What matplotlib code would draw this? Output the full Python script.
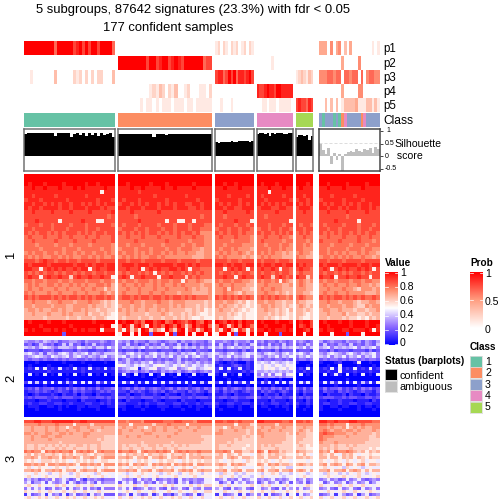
import numpy as np
import matplotlib
matplotlib.use("Agg")
import matplotlib.pyplot as plt
from matplotlib.colors import LinearSegmentedColormap, ListedColormap

plt.rcParams["font.family"] = ["Liberation Sans", "DejaVu Sans"]

W = 504
group_x = [(24, 115), (118, 212), (215, 254), (257, 293), (296, 313), (319, 380)]
class_colors = ["#66C2A5", "#FC8D62", "#8DA0CB", "#E78AC3", "#A6D854"]

# probability tracks, digit/9, one string per group
p1 = ["999999999969999978979799799996", "0" * 30, "120210212012021",
      "0" * 15, "0000000", "4440504503040000000101"]
p2 = ["0" * 30, "999999999799789978987999999677", "0" * 15,
      "000000100000000", "0000000", "0000000040000050000000"]
p3 = ["001000000030000021202020220003", "0" * 30, "788679796887897",
      "0" * 15, "1232132", "5556656606656606056655"]
p4 = ["0" * 30, "000000000012132021300120001102", "0" * 15,
      "877898879988888", "0000000", "0000000040000055000000"]
p5 = ["0" * 30, "000000010110101110111011011111", "001000100000000",
      "001101110111110", "7877687", "0030303013333411133131"]
class_track = ["1" * 30, "2" * 30, "3" * 15, "4" * 15, "5" * 7,
               "3133313124333332433333"]

# silhouette bars per group
sil_g1 = [.90, .93, .92, .94, .94, .93, .93, .92, .94, .92, .80, .92, .93, .92, .93, .78,
          .88, .93, .84, .92, .80, .92, .85, .92, .80, .93, .84, .90, .93, .76]
sil_g2 = [.89, .89, .90, .90, .89, .90, .89, .90, .90, .90, .88, .75, .90, .88, .90, .86,
          .89, .90, .88, .90, .90, .88, .90, .89, .90, .88, .90, .89, .90, .88]
sil_g3 = [.55, .53, .55, .58, .57, .58, .60, .58, .57, .60, .59, .60, .61, .58, .62]
sil_g4 = [.90, .93, .92, .89, .93, .80, .93, .90, .92, .91, .92, .89, .90, .92, .91]
sil_g5 = [.78, .86, .86, .80, .84, .66, .82]
sil_g6 = [.52, .25, .10, .32, -.30, .12, -.15, .10, -.60, .08, .15, .20, .18, .30,
          .22, .18, .28, .25, .32, .12, .35, .30]
sil_groups = [sil_g1, sil_g2, sil_g3, sil_g4, sil_g5, sil_g6]

# heatmap cells, hex digit/15, groups split by spaces
heat1 = [
    "ffffffffffffffffffffffff ffffffffffffffffffffffff ffffffffff ffffffffff fffff ffffffffffffffff",
    "ffffffffffffffffffffffff ffffffffffffffffffffffff ffffffffff ffffffffff fffff ffffffffffffffff",
    "fefffeffffefffffeffeffff ffefffffefffeffffffeffff ffeffeffff fefffeffff fffef ffeffffeffffefff",
    "eefeefeeefeeefefeeeeefee eeefeefeeeefeefeeeefeee eefeeefeee eeefeeefee efeee eefeeefeeeefeeee",
    "eeeeeeeeeeeeeeeeeeee8eee eeeeedeeeeeeeeeeeeeeee eeeeeeeeee eee8eeeeee eeeee eeeeeeeeeeeeeeee",
    "eedeeeeedeeeeeeedeeeeeee eeeeeeeeedeeeeeeedeeee eeedeeeede edeeeeedee eedee eeedeeeeedeeeeee",
    "deeedeeeeeedeeeeeeedeeed edeeedeeeeeedeeeeeeedee deeeeedeee eedeeeeeed deede deeeeedeeeedeeee",
    "eedeedededeedeededededee deedededeedededeeddeede ededeedede ededededee edede ededeedededeedee",
    "edeedeeeedeedeeedeeededd eedeeedeeedeeedeeeddede eedeeddeee deeeddeedd deeed eedeededeedeeded",
    "ddeddddeddddeddddeddddde dddeddddddedddddddddddd ddeddddded dddddedddd ddedd ddeddddeddddeddd",
    "ddddddddddddddddddddddcd ddddcddddddddddddddddcd ddcddddddd ddcddddddd ddddd dddddddcdddddddd",
    "dddeddddd8dddddeddd88ddd dddddedddddd8dd88dd8ddd dddddeddd8 ddddddddd8 ddddd ddddeddddd8ddddd",
    "cdddcddcddddcdddcddddddc dcdddcddddcdddcdddcdddc dcdddcddcd dddcdddcdd dcddc dcddddcdddcdddcd",
    "ddcddddcdddcddddcddcdddd cdddcddcdddcddcdddcddcc cddcddcddc cddcddcddc ddcdd ddcddcddddcddcdd",
    "dcdcddcdcdcdddcdcdcddcdd dcdcdcdcddcdcdcdcddcdb dcdcddcdcc dcddcdcdcd cdcdc dcdcdcddcdcdcddc",
    "cdcccdcccdccdcccdccdcccd ccdcccdcccdccccdcccdccb cdcccdcccb ccdcccdccb ccdcc ccdcccdcccdccdcc",
    "ccdcccccdccccdccccdccccd ccccdcccccccdcccccbcccb ccccbccccb cdcccccbcc cccbc dccccdccccdcccbc",
    "cccbccccbcccbccccbcccccb ccbcccbccccbccccbccbccb ccbccccbbb ccbcccbccb ccbcb cccbccccbcccbccc",
    "ccccbcccccbcccbcccccbccb bcccbcccbcccbccbcccbbab cbccbcbbba cccbccbcbb ccbbb ccbccccbcccbccbb",
    "bcbccbccbcbccbcbccbccbcb cbccbcbcbccbcbcbbcbbaab bcbcbbcbab cbcbcbbaba bcbba ccbcbcbcbbcbcbba",
    "cbcbcbbccbcbcbbccbcbcbbc bcbcbcbbccbcbbbbbbbaaab cbcbbbbaba bcbcbbbaaa cbbaa bccbcbcbcbbcbbab",
    "dddcdeddcddcddcddddcdddd ddcdddcddddcdddcddddcdd dddcddcddd dcdddcdddc ddddd ddcdddcddddcdddd",
    "edeeeedeeeeeedeededeedee deeedeeedeeeeedeedededd eededeedee edeedeedee ededd edeeedeeeedeedee",
    "eedd8dedededdedee8deddee ddedde8dededdeeded8ddcc dd8deded8d dedded8ddc deddc ded8dededdeded8d",
    "dcdcdcddcdcddcdcddcddcdd cdcddcdcd8dcdcddcdcdcdc dcddcdcddc dcddcdcddc cdccc dcddcdcdcddcdcdd",
    "dedd8deddedd9deddeddedd8 ded8ddeddd8ddeddd9dcdcc ddedd8dedd dedd9dedcd edd9c edde8ddeddedd8dd",
    "ccbccbcccbccbcccbcccbccb cbccbcccbcbccbcc8cbbcba cbccbccbba cbccbc8cba bcbab cbccbcccbccbccbb",
    "bcbcbbccbcbbcbcbcbbccbca bcbbcbcbbcbcbbcbcbbbbab bcbbcbbbaa bbcbbbbaab bcbaa bcbbcbbcbbcbbaba",
    "bcbbcbbbcbbcbbbcbbcbb9ba bbcbbcbbbcbbcbbbbcbabaab bbc9cbbaa9 bcbbcbbaaa bbbaa bbcbbbcbba9bbbab",
    "cbcbbbcbbcbbbcbbcbbbcbab bcbbbcbbcbbcbbbabbbaaaab bbcbba9baa bbcbbaba9a bbaa9 bcbbcbbcbbbbaaab",
    "dcdcdddcdcdcddcdcdcddcdc cddcdcddcddcdcddcdcdcccb dcdcdcdcdc cdcdcdccbc cdcbb dcdcddcdcdcdccdc",
    "bbcbbbabbcbbbabbbcbba9a9 bbbcbbabbbcbbabbbaaaaa9a bbabba9a89 bbabbaa9aa baa99 bbcbbabbba9aabba",
    "bbabbbbabbbaabbbbabaa9a9 abbabbabbabbbababaaa9a9a babaa9a989 abbabaa9a9 aba9a bbabbbabba99babb",
    "abbabaabbabaabbabaa9aa99 bababaabaababaaaa99a9a89 abaa9a9898 aabaa9a98a aa9a9 abbaabaaa9aa9aab",
    "aabaaabaaababaaab9aa9a98 aabaaaa9aaaba9aa9a9a9889 aaa9a98988 aaa9a9a989 aa989 aabaaab9aa99a9aa",
    "aaaaa9aaaaa9aa9aaa9aa988 a9aaa9aa9aa9aa9a9a988988 a9a9988988 aa9a989889 a9889 aa9aaa9a99898a9a",
    "feffffefffefffffffefffff feffdecffdefcdfedcefdcfe fedfefdfee fefffefffe feffd fefffeffefffefff",
    "ffffefffffffefffffffeff8 cfe9efc8fdecfecfd9cfdefc cfe9dfcfec ffeffffeff fdefd ffefffffefffeffe",
    "efeffeefefeffefefeef8eee c8e9c8fe9ca8fc9ef8de9cfe c9efa8ec8d eefefeeefe ffedf efeeffeefeeefe8e",
    "ffffffffff3fffffffffffff 8ff8f8ff3fff8f3ff8f8ff8f 8ff8f3ff8f ff8fff3fff ff8ff fff8fff3fff8ffff",
]
heat2 = [
    "544546545344554354445434 545354435543455354454435 4454354453 4534435434 45434 5345443544535435",
    "342364342363634243634334 436342353436343635243434 3634363436 3436343634 34364 3634354363435436",
    "656467654666547656466475 465656746565646756564646 5646756564 6756564656 65746 5674656567465674",
    "233323342233324332233234 323324233323332423324332 3323332423 2333242333 23332 3324233323332423",
    "675463654676465674654666 546756546756465465674656 6546754676 5467654675 67546 5467654675465674",
    "456765476567467546546745 674657465746574657467546 4657465674 6546574657 46575 6574657465746574",
    "434434334343443343434334 346434344343434634343443 4344343443 4344344343 34434 3434434344343443",
    "000100000010000100000100 546454657454654646546454 2101210021 6765765676 10001 1000120001800100",
    "010000100000100001000000 876576765787657686576576 1211232121 7687687687 00010 0010080000100010",
    "121717121712171217121712 456781567845678456875678 2717127121 7687867868 12171 1217171217121712",
    "111111211111111211111111 345453453435454534543454 2112111212 5565656565 11211 1121181112111211",
    "070107010701070107010701 171070107017010701070107 1070107010 4748478478 07010 0701710701070107",
    "000000000000000000000000 001000100010001000100000 0010001000 5545545455 00000 0000000000000000",
    "000000000001000000000000 000000000100000000000000 0001000000 0010001000 00000 0000000100000000",
    "271617171716271717162718 172716171717162717171618 2717162718 1627171716 17271 1716271717162718",
    "000001000000100000010000 000010000001000000100000 0001000010 0000100001 00000 0000100000100000",
    "232423342324243423242334 234243423432342434234243 3242343243 4232434242 32423 2423342324243423",
    "122323212322132322123232 221323212323123221323213 2132321232 1323212321 21322 1322132321232213",
    "101211121021120211021112 112011211210211021121101 1121021112 1021120211 10211 1021112021102112",
    "232333223233322332233232 332322333223233322323332 2332332233 3223233223 23232 2333223233223323",
    "111011211101110211101121 102111011210111021110111 1101121110 1110211101 11021 1101121110111021",
    "121122112211211122112121 221112121122112212112122 2112211221 1211221121 21121 1221121122112211",
    "011100110101001101110011 110011010011101100101101 1001101001 0110010110 10010 1001101100101101",
    "000100000100001000010000 010000100001000010001000 0100001000 0001000010 00100 1000010000100010",
    "000000000000000000000000 000000000000000000000000 0000000000 0000000000 00000 0000000000000000",
    "000000000000000000000000 000000000000000000000000 0000000000 0000000000 00000 0000000000000000",
]
heat3 = [
    "dddeedddeeeeeeddeedddddd ccbcccbdddddcccddcccbddd ddcddcdccc eedddddccd ddcdc eeddedddeeddddcc",
    "bbbbcbbbbcbbbb8bbbb9bbbb bbb8bbbbb9bbbcbbbb8bbbbb bbbbb8bbb9 bbbbb9bbbb bbbbb ccbcbbb8bbbcbbbb",
    "aabaaabaabaa8abbaabaaaba abaabaa8abaabaabaabaabaa aa8abaabaa abaabaabaa aabaa bbabaab8ababaabb",
    "aabaaabaabaabaabaaaba9aa baabaabaabaabaaabaaabaaa abaaabaa9a baabaabaaa aba9a bcbabbabbabaaaba",
    "bbabaabbaabbabaaabbaaaaa baaaaaabbaaaaaabaaaaaaaa bbaaaaaa9a bbaaaaaa9a baa99 cdccbbbaabaaaa9a",
    "aabaabbaabbaaaaaabaaaaa9 aabaabaaaabaabaaaaaaaa99 aaaaaaa9a9 abaaaaaa99 aaa99 cbbbaaabaaaaa99a",
    "aabaaaabaaaaaaaaaaaaa9a9 aaaaaaaaaaaaaaaaaaaaaaa9 aaaaa9a999 aaaaaaaa99 aa999 cbaaaaaaaaaaa999",
    "aaaaaaaaaa9aaaaaaaaaaa99 aaaaaa9aaaaaaa9aaaaaaa99 aaa9a99999 aaaaaaa999 a9999 baaabaaaaaaa9999",
    "a99a99a9a9a9a99aa9a99a99 a9a99a99aa9a99a9a9a99999 a99a999989 a9a9a99999 9a989 aaa9a99a9a999999",
    "a99a9a999a9a99a999a99a99 a99a99a99a99a99a99999999 a999999899 a9999a9999 99988 a9a9a999a9999898",
    "cbcbb8cbcbcbbc8bcbcb8bcb cbbcb8bcbbcbcb8bcbcbbcbb bbcb8bb99a cb8cbb9a99 baa99 bab8cbbcba9a8a9a",
    "9a8a9a99a98a9a899a98a99a 98a9a9a8a99a98a99a8a9a99 9a8a98a887 a98a9a9988 98a87 a98a87a9a8788988",
    "aaba8aabaa8baaba8aaba8ab aaba8aab8aaba8aaba8aaaba aa8aba8aa9 aa8aaa8a99 aa9a9 aa8aa8a9a8a98a99",
    "9898799989898789898978998 989879898789899879898989 9878988798 9898789887 88878 9878987987897887",
    "bbabab8bbabbaba8bbabab8b bab8baba8babab8babab8bba aba8baba88 ba8bab9aa9 aba9a ab8aba8ba8ab8aa9",
    "8978988789879887897898798 987989878987989789879878 8987898777 8978987866 88787 8978786978767877",
    "aabab8aabab8aab8abaab8ab aabab8aab8abaab8abab8aba aab8aab8aa ab8aab8aab aba8a aab8aab8aba8a8aa",
    "7879787687987679878769787 8767879878767987687987687 7697867687 7687986776 78767 7697867687976787",
    "89787898789787897898789787 78978978789787897878978 8978976876 8978787678 78987 7898789878978789",
    "464534548457534742545434 754537454734545374545447 4574547457 4545745457 45745 4574534745743454",
    "573557375457375354753745 375735745375745375735457 7357375745 3574573573 54735 7357457357457357",
    "898798787989787987897878 987897897878989787897989 8979787889 7989787897 87898 9787897897897878",
    "474757347457374574745374 574734574574374574375474 5743745743 7457437475 47457 4574374574374574",
    "987898798789789879878978 789879878987898798789879 8798789879 8987987898 98789 8798789879878987",
    "273457274537257345274573 457275347257342575347257 2734572735 4727345727 27457 3457275347257345",
    "897898978978989789789897 978978989789789897897897 8978978978 9789789789 89789 9789789789789789",
]
heat_blocks = [(heat1, 174, 336), (heat2, 340, 417), (heat3, 420, 499)]

value_ticks = [0, 0.2, 0.4, 0.6, 0.8, 1]
prob_ticks = [0, 0.5, 1]
sil_ticks = [-0.5, 0, 0.5, 1]

value_cmap = LinearSegmentedColormap.from_list(
    "value", ["#0000FF", "#8F6CFF", "#FFFFFF", "#FF8A6A", "#FF0000"])
prob_cmap = LinearSegmentedColormap.from_list("prob", ["#FFFFFF", "#FF9E81", "#FF0000"])

fig = plt.figure(figsize=(7, 7), dpi=72)


def box(x0, y0, x1, y1):
    ax = fig.add_axes([x0 / W, 1 - y1 / W, (x1 - x0) / W, (y1 - y0) / W])
    ax.set_xticks([])
    ax.set_yticks([])
    return ax


def label(x, y, s, size=9, **kw):
    kw.setdefault("va", "center")
    fig.text(x / W, 1 - y / W, s, fontsize=size, **kw)


# top tracks
for track, name, y0 in zip([p1, p2, p3, p4, p5], ["p1", "p2", "p3", "p4", "p5"],
                           [41, 56, 70, 84, 98]):
    for s, (x0, x1) in zip(track, group_x):
        ax = box(x0, y0, x1, y0 + 14)
        ax.imshow([[int(c) / 9 for c in s]], cmap=prob_cmap, vmin=0, vmax=1,
                  aspect="auto", interpolation="nearest")
        ax.axis("off")
    label(383, y0 + 8, name, 11.5)

class_cmap = ListedColormap(class_colors)
for s, (x0, x1) in zip(class_track, group_x):
    ax = box(x0, 113, x1, 127)
    ax.imshow([[int(c) - 1 for c in s]], cmap=class_cmap, vmin=0, vmax=4,
              aspect="auto", interpolation="nearest")
    ax.axis("off")
label(383, 121, "Class", 12)

# silhouette
for i, (vals, (x0, x1)) in enumerate(zip(sil_groups, group_x)):
    ax = box(x0, 128.5, x1, 171)
    ax.bar(np.arange(len(vals)), vals, width=1.0,
           color="#BEBEBE" if i == 5 else "black")
    ax.set_xlim(-0.5, len(vals) - 0.5)
    ax.set_ylim(-0.6, 1.1)
    for sp in ax.spines.values():
        sp.set_color("#444444" if i == 5 else "#707070")
        sp.set_linewidth(1.5)
    if i == 5:
        ax.axhline(0.53, color="#DDDDDD", lw=1, ls=(0, (3, 2)))
        ax.yaxis.tick_right()
        ax.set_yticks(sil_ticks)
        ax.set_yticklabels([])
        ax.tick_params(axis="y", length=3, width=0.7, pad=1)
for v in sil_ticks:
    label(385 if v != 1 else 386, 156 - v * 25, str(v), 7)
label(394, 144, "Silhouette", 10.5)
label(394, 156, " score", 10.5)

# main heatmap
for rows, y0, y1 in heat_blocks:
    split = [r.split(" ") for r in rows]
    for g, (x0, x1) in enumerate(group_x):
        width = max(len(r[g]) for r in split)
        part = [[int(c, 16) / 15 for c in r[g].ljust(width, r[g][-1])[:width]] for r in split]
        ax = box(x0, y0, x1, y1)
        ax.imshow(part, cmap=value_cmap, vmin=0, vmax=1, aspect="auto",
                  interpolation="nearest")
        ax.axis("off")
for y, s in zip([255, 378, 458], ["1", "2", "3"]):
    label(11, y, s, 13, rotation=90, ha="center")

# title
label(193, 10, "5 subgroups, 87642 signatures (23.3%) with fdr < 0.05", 13, ha="center")
label(168, 28, "177 confident samples", 13, ha="center")

# value legend
grad = np.linspace(1, 0, 200).reshape(-1, 1)
ax = box(385, 272, 398, 345)
ax.imshow(grad, cmap=value_cmap, vmin=0, vmax=1, aspect="auto", extent=[0, 1, 0, 1])
ax.axis("off")
for v in value_ticks:
    yy = 0.02 + v * 0.96
    ax.plot([0, 0.2], [yy, yy], color="white", lw=0.7)
    ax.plot([0.8, 1], [yy, yy], color="white", lw=0.7)
    label(400, 343 - v * 69.5, str(v), 10.5)
ax.set_xlim(0, 1)
ax.set_ylim(0, 1)
label(385, 263, "Value", 10, fontweight="bold")

# prob legend
ax = box(470, 272, 483, 328)
ax.imshow(grad, cmap=prob_cmap, vmin=0, vmax=1, aspect="auto", extent=[0, 1, 0, 1])
ax.axis("off")
for v in prob_ticks:
    yy = 0.02 + v * 0.96
    ax.plot([0, 0.2], [yy, yy], color="white", lw=0.7)
    ax.plot([0.8, 1], [yy, yy], color="white", lw=0.7)
    label(485, 330 - v * 56, str(v), 10.5)
ax.set_xlim(0, 1)
ax.set_ylim(0, 1)
label(470, 263, "Prob", 10, fontweight="bold")

# class legend
label(470, 347, "Class", 10, fontweight="bold")
for i, col in enumerate(class_colors):
    ax = box(470, 356 + i * 11.4, 482, 367 + i * 11.4)
    ax.set_facecolor(col)
    for sp in ax.spines.values():
        sp.set_color("#DDDDDD")
    label(485, 362 + i * 11.3, str(i + 1), 10.5)

# status legend
label(385, 361, "Status (barplots)", 10, fontweight="bold")
for i, (col, name) in enumerate(zip(["black", "#BEBEBE"], ["confident", "ambiguous"])):
    ax = box(385, 369 + i * 12, 397, 380 + i * 12)
    ax.set_facecolor(col)
    for sp in ax.spines.values():
        sp.set_color("#DDDDDD")
    label(400, 376 + i * 11, name, 10.8)

fig.savefig("out.png", dpi=72)
